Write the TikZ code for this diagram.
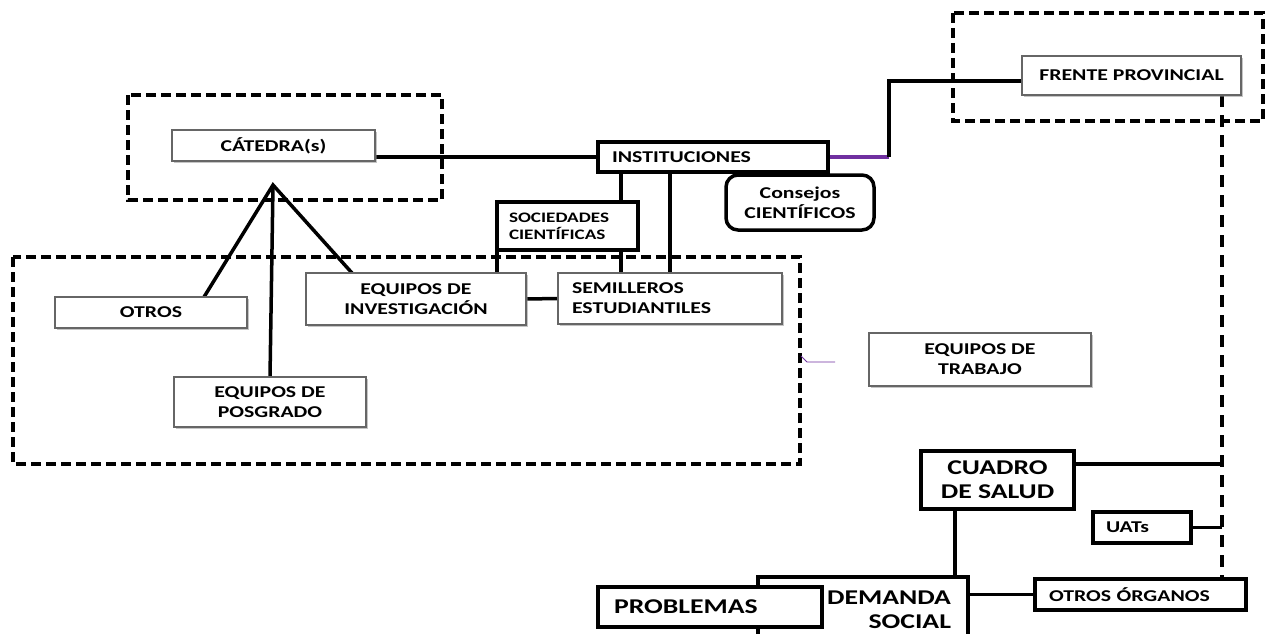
\documentclass[tikz,border=0pt]{standalone}
\usepackage{fontspec}
\setmainfont{Carlito}[FakeStretch=1.32]
\usepackage{tikz}
\usetikzlibrary{shadows,backgrounds}
\definecolor{lila}{RGB}{112,48,160}

\begin{document}
\begin{tikzpicture}[x=1pt, y=-1pt,
	suave/.style={draw=black!60, line width=1.3pt, fill=white, drop shadow={shadow xshift=2pt, shadow yshift=-2pt, fill=black!45}, inner sep=0pt, outer sep=0pt, align=center, font=\fontsize{16.5}{20}\selectfont\bfseries},
	duro/.style={draw=black, line width=3.5pt, fill=white, inner sep=0pt, outer sep=0pt, align=center, font=\fontsize{16.5}{20}\selectfont\bfseries},
	grande/.style={font=\fontsize{21}{24}\selectfont\bfseries},
	grupo/.style={draw=black, line width=3.8pt, dash pattern=on 10pt off 5pt},
	trazos/.style={line width=3.5pt, dash pattern=on 12pt off 8pt},
	enlace/.style={line width=3.5pt}]
	\useasboundingbox (0,0) rectangle (1268,634);
	\clip (0,0) rectangle (1268,634);

	% marcos punteados
	\draw[grupo] (128,95) rectangle (442,200);
	\draw[grupo] (953,13) rectangle (1263,121);
	\draw[grupo] (13,257) rectangle (800,464);
	\draw[lila, line width=0.8pt] (801,356) -- (807,362) -- (835,362);

	\node[suave, minimum width=203pt, minimum height=31pt] (cat) at (273.5,145.5) {CÁTEDRA(s)};
	\node[duro, minimum width=230pt, minimum height=30pt, inner xsep=14pt, text width=202pt, align=left] (inst) at (713,157) {INSTITUCIONES};
	\node[duro, minimum width=141pt, minimum height=48pt, inner xsep=12pt, text width=117pt, align=left, font=\fontsize{14.5}{17}\selectfont\bfseries] (soc) at (567.5,226) {SOCIEDADES\\CIENTÍFICAS};
	\node[duro, rounded corners=12pt, minimum width=148pt, minimum height=55pt] (cons) at (800,202.5) {Consejos\\CIENTÍFICOS};
	\node[suave, minimum width=219pt, minimum height=39pt] (frente) at (1131.5,75.5) {FRENTE PROVINCIAL};

	\node[suave, minimum width=192pt, minimum height=31pt] (otros) at (151,312.5) {OTROS};
	\node[suave, minimum width=220pt, minimum height=52pt] (inv) at (416,299) {EQUIPOS DE\\INVESTIGACIÓN};
	\node[suave, minimum width=224pt, minimum height=51pt, inner xsep=14pt, text width=196pt, align=left] (sem) at (670,298.5) {SEMILLEROS\\ESTUDIANTILES};
	\node[suave, minimum width=192pt, minimum height=50pt] (pos) at (270,402) {EQUIPOS DE\\POSGRADO};
	\node[suave, minimum width=222pt, minimum height=53pt] (trab) at (980,359.5) {EQUIPOS DE\\TRABAJO};

	\node[duro, grande, minimum width=153pt, minimum height=58pt] (cuadro) at (997.5,480) {CUADRO\\DE SALUD};
	\node[duro, minimum width=98pt, minimum height=31pt, inner xsep=13pt, text width=72pt, align=left] (uats) at (1142,527.5) {UATs};
	\node[duro, grande, minimum width=210pt, minimum height=66pt, inner xsep=17pt, text width=176pt, align=right] (dem) at (863,610) {DEMANDA\\SOCIAL};
	\node[duro, grande, minimum width=224pt, minimum height=40pt, inner xsep=16pt, text width=192pt, align=left] (prob) at (710,607) {PROBLEMAS};
	\node[duro, minimum width=211pt, minimum height=31pt, inner xsep=14pt, text width=183pt, align=left] (org) at (1140.5,594.5) {OTROS ÓRGANOS};

	\coordinate (vertice) at (273,185);
	\coordinate (codo) at (889,157);
	\coordinate (riel) at (1222,0);

	\begin{scope}[on background layer]
		\fill[white] (0,0) rectangle (1268,634);
		\draw[enlace] (cat.east |- inst.west) -- (inst.west);
		\draw[enlace] ([xshift=53pt]otros.north) -- (vertice) -- ([xshift=46pt]inv.north west);
		\draw[enlace] (vertice) -- (pos.north);
		\foreach \dx in {-92,-43}
		{
			\draw[enlace] ([xshift=\dx pt]inst.south) -- ([xshift=\dx pt]inst.south |- sem.north);
		}
		\draw[enlace] (soc.south west) -- (soc.south west |- inv.north);
		\draw[enlace] (inv.east) -- (sem.west);
		\draw[enlace, lila] (inst.east) -- (codo);
		\draw[enlace] (codo) |- ([yshift=-5.5pt]frente.west);
		\draw[trazos] (frente.south -| riel) -- (org.north -| riel);
		\draw[enlace] ([yshift=16pt]cuadro.east) -- ([yshift=16pt]cuadro.east -| riel);
		\draw[enlace] (uats.east) -- (uats.east -| riel);
		\draw[enlace] ([xshift=-42.5pt]cuadro.south) -- ([xshift=-42.5pt]cuadro.south |- dem.north);
		\draw[enlace] (dem.east |- org.west) -- (org.west);
	\end{scope}
\end{tikzpicture}
\end{document}
